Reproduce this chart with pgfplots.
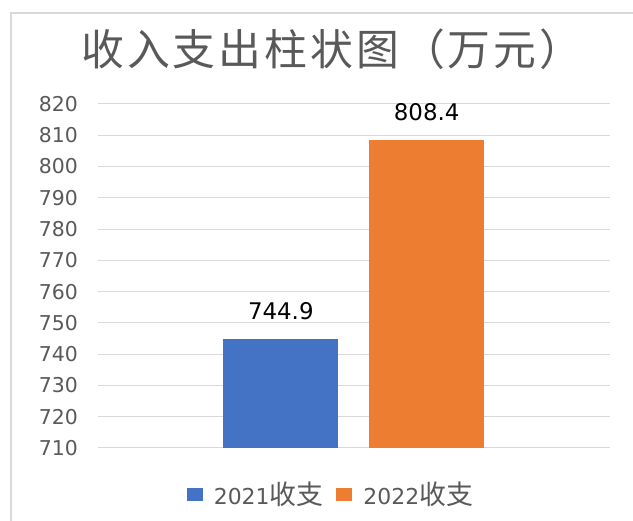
\documentclass[border=0pt]{standalone}
\usepackage{fontspec}
\setmainfont{DejaVu Sans}
\newfontfamily\cjk{Noto Sans CJK SC}
\usepackage{pgfplots}
\pgfplotsset{compat=1.18}
\definecolor{cblue}{HTML}{4472C4}
\definecolor{corange}{HTML}{ED7D31}
\definecolor{cgray}{HTML}{595959}
\definecolor{cgrid}{HTML}{D9D9D9}
\newcommand{\tsp}{\hspace{3bp}}
\begin{document}
\begin{tikzpicture}[x=1bp,y=1bp]
\useasboundingbox (0,0) rectangle (633,521);
\draw[cgrid, line width=2bp] (11,-5) -- (11,507.5) -- (640,507.5);
\node[text=cgray, font=\cjk\fontsize{43}{43}\selectfont, anchor=west, inner sep=0pt] at (81,472) {收\tsp 入\tsp 支\tsp 出\tsp 柱\tsp 状\tsp 图\tsp （\tsp 万\tsp 元\tsp ）};
\begin{axis}[
  at={(98bp,73bp)}, anchor=south west,
  scale only axis, width=512bp, height=344bp,
  xmin=0, xmax=512, ymin=710, ymax=820,
  ytick={710,720,...,820}, xtick=\empty,
  ymajorgrids, grid style={cgrid, line width=1bp},
  axis line style={draw=none}, major tick style={draw=none},
  /pgf/number format/assume math mode=true,
  yticklabel style={font=\fontsize{20.5}{20.5}\selectfont, text=cgray, anchor=east, inner sep=0pt, xshift=-20bp},
  legend columns=2,
  legend style={at={(axis description cs:0.453,-0.134)}, anchor=center, draw=none, fill=none, inner sep=0pt,
    font=\fontsize{22}{22}\selectfont, text=cgray,
    nodes={inner sep=0pt},
    /tikz/every odd column/.append style={column sep=11bp},
    /tikz/every even column/.append style={column sep=13bp}},
  legend image code/.code={\fill[#1] (0bp,-6.5bp) rectangle (16bp,6.5bp);},
  nodes near coords,
  every node near coord/.append style={font=\fontsize{23}{23}\selectfont, text=black, anchor=south, inner sep=0pt, yshift=19bp},
]
\addplot[ybar, bar shift=0pt, bar width=115, fill=cblue, draw=none] coordinates {(182.8,744.9)};
\addlegendentry{2021{\cjk\fontsize{27}{27}\selectfont 收支}}
\addplot[ybar, bar shift=0pt, bar width=115, fill=corange, draw=none] coordinates {(328.7,808.4)};
\addlegendentry{2022{\cjk\fontsize{27}{27}\selectfont 收支}}
\end{axis}
\end{tikzpicture}
\end{document}
